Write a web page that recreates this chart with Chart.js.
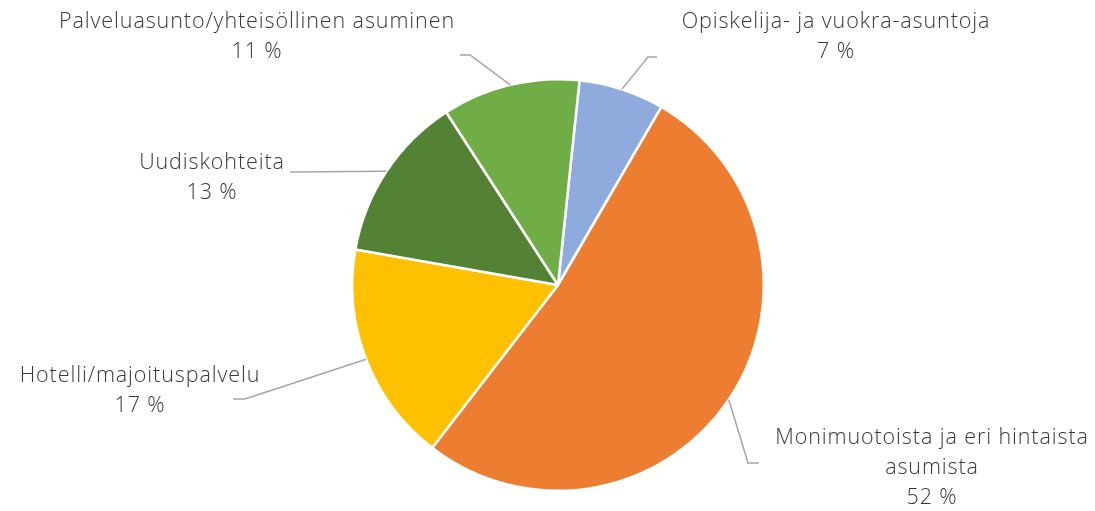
<!DOCTYPE html>
<html>
<head>
<meta charset="utf-8">
<script src="https://cdn.jsdelivr.net/npm/chart.js@4/dist/chart.umd.min.js"></script>
<style>
  html, body { margin: 0; padding: 0; background: #fff; }
  #wrap { width: 1095px; height: 511px; position: relative; }
</style>
</head>
<body>
<div id="wrap"><canvas id="chart" width="1095" height="511"></canvas></div>
<script>
// data
let categories = [
  "Opiskelija- ja vuokra-asuntoja",
  "Monimuotoista ja eri hintaista asumista",
  "Hotelli/majoituspalvelu",
  "Uudiskohteita",
  "Palveluasunto/yhteisöllinen asuminen"
];
let shares = [6.7, 52.1, 17.3, 13.1, 10.8];
let percentLabels = ["7 %", "52 %", "17 %", "13 %", "11 %"];
let colors = ["#8FAADC", "#ED7D31", "#FFC000", "#548235", "#70AD47"];

// where each label sits, with the lines of text and the leader line elbow
let labelLayout = [
  { x: 836, y: 22, lines: ["Opiskelija- ja vuokra-asuntoja"], elbow: [[657, 57], [648, 57]] },
  { x: 932, y: 438, lines: ["Monimuotoista ja eri hintaista", "asumista"], elbow: [[759, 463], [748, 463]] },
  { x: 140, y: 376, lines: ["Hotelli/majoituspalvelu"], elbow: [[233, 399], [245, 399]] },
  { x: 212, y: 163, lines: ["Uudiskohteita"], elbow: [[290, 172]] },
  { x: 257, y: 22, lines: ["Palveluasunto/yhteisöllinen asuminen"], elbow: [[460, 55], [470, 55]] }
];

const labelPlugin = {
  id: "sliceLabels",
  afterDraw(chart) {
    let ctx = chart.ctx;
    let arcs = chart.getDatasetMeta(0).data;
    ctx.save();
    arcs.forEach((arc, i) => {
      let p = arc.getProps(["x", "y", "startAngle", "endAngle", "outerRadius"], true);
      let mid = (p.startAngle + p.endAngle) / 2;
      let ex = p.x + Math.cos(mid) * p.outerRadius;
      let ey = p.y + Math.sin(mid) * p.outerRadius;
      let lay = labelLayout[i];

      // leader line
      ctx.strokeStyle = "#A6A6A6";
      ctx.lineWidth = 1.5;
      ctx.beginPath();
      ctx.moveTo(lay.elbow[0][0], lay.elbow[0][1]);
      for (let k = 1; k < lay.elbow.length; k++) ctx.lineTo(lay.elbow[k][0], lay.elbow[k][1]);
      ctx.lineTo(ex, ey);
      ctx.stroke();

      // text
      ctx.fillStyle = "#383838";
      ctx.font = "300 21.5px 'Open Sans', sans-serif";
      ctx.letterSpacing = "0.9px";
      ctx.textAlign = "center";
      ctx.textBaseline = "middle";
      let lines = lay.lines.concat([percentLabels[i]]);
      lines.forEach((t, j) => {
        ctx.fillText(t, lay.x, lay.y + j * 30);
      });
    });
    ctx.restore();
  }
};

let ctx = document.getElementById("chart").getContext("2d");
let chart = new Chart(ctx, {
  type: "pie",
  data: {
    labels: categories,
    datasets: [{
      data: shares,
      backgroundColor: colors,
      borderColor: "#ffffff",
      borderWidth: 2.5
    }]
  },
  options: {
    responsive: false,
    animation: false,
    rotation: 6,
    layout: { padding: { left: 351, right: 330, top: 78, bottom: 19 } },
    plugins: {
      legend: { display: false },
      tooltip: { enabled: false }
    }
  },
  plugins: [labelPlugin]
});
</script>
</body>
</html>
